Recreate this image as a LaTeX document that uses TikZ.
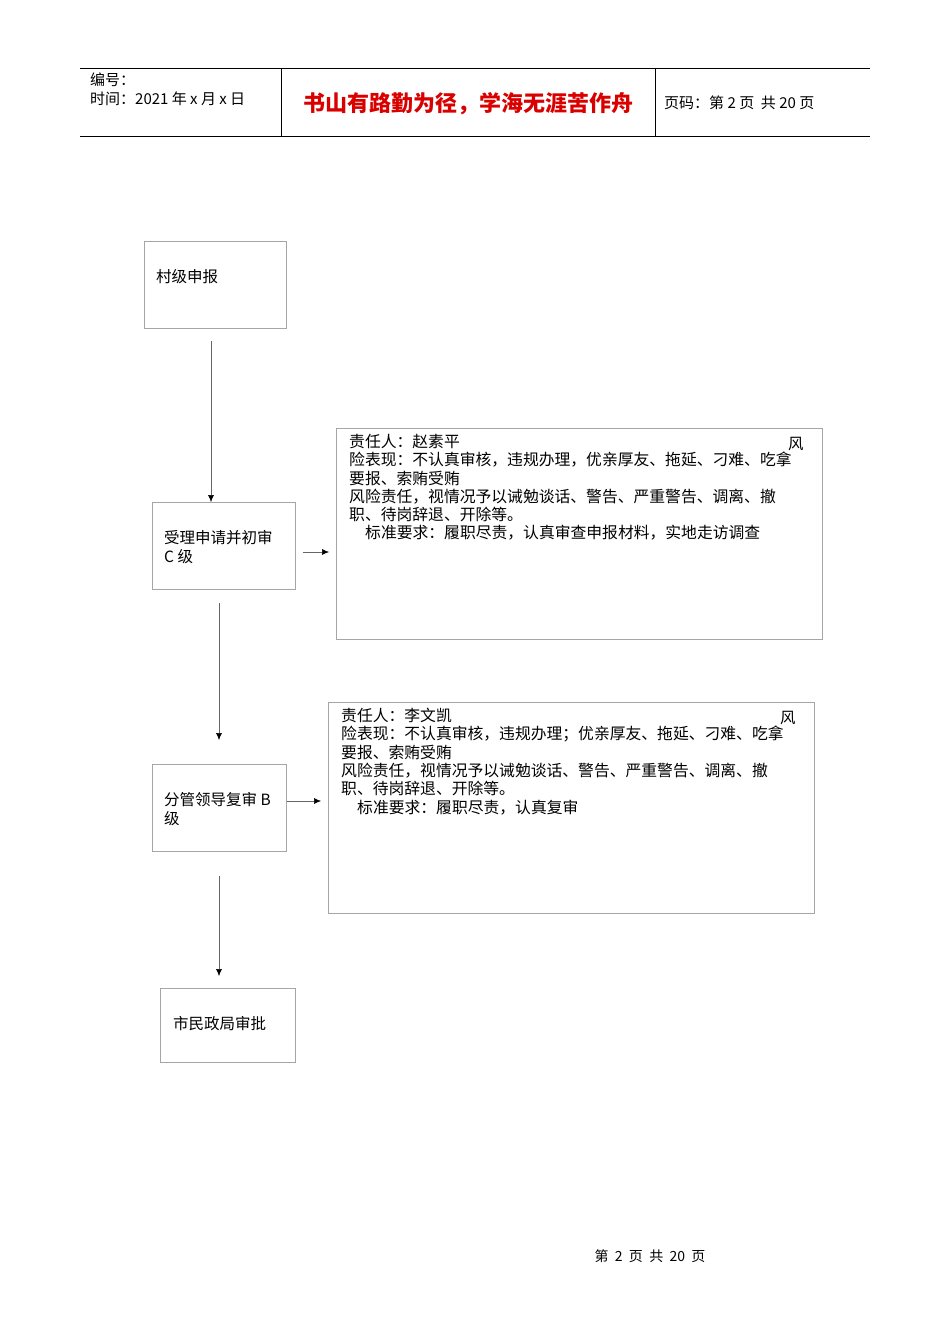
\documentclass[tikz,border=0pt]{standalone}
\usepackage{fontspec}
\setmainfont{Liberation Serif}
\newfontfamily\cjk{Noto Sans CJK SC}
\usetikzlibrary{arrows.meta}
\begin{document}
\begin{tikzpicture}[x=1pt,y=-1pt,
  box/.style={draw=black!35,line width=0.6pt},
  arr/.style={draw=black!60,line width=0.5pt,-{Latex[length=7pt,width=6pt,black]}},
  txt/.style={inner sep=0pt,font=\cjk\fontsize{15.8}{18.3}\selectfont,anchor=north west,align=left},
  lbl/.style={inner sep=0pt,font=\cjk\fontsize{15.5}{19}\selectfont,anchor=west,align=left}]
\useasboundingbox (0,0) rectangle (950,1344);
% header
\draw[line width=0.6pt] (80,68) -- (870,68) (80,136) -- (870,136) (281,68) -- (281,136) (655,68) -- (655,136);
\node[lbl,font=\cjk\fontsize{15}{17}\selectfont] (h1) at (90,80) {编号：};
\node[lbl,font=\cjk\fontsize{15}{17}\selectfont] (h2) at (90,99) {时间：2021 年 x 月 x 日};
\node[inner sep=0pt,text=red!85!black,font=\cjk\bfseries\fontsize{22}{26}\selectfont] (h3) at (468,104) {书山有路勤为径，学海无涯苦作舟};
\node[lbl,font=\cjk\fontsize{15}{17}\selectfont] (h4) at (664,103) {页码：第 2 页\ \ 共 20 页};
% flow boxes
\draw[box] (144,241) rectangle (286,328);
\node[lbl] (b1) at (156,277) {村级申报};
\draw[box] (152,502) rectangle (295,589);
\node[lbl] (b2) at (164,547) {受理申请并初审\\C 级};
\draw[box] (152,764) rectangle (286,851);
\node[lbl] (b3) at (164,809) {分管领导复审 B\\级};
\draw[box] (160,988) rectangle (295,1062);
\node[lbl] (b4) at (173,1024) {市民政局审批};
% info boxes
\draw[box] (336,428) rectangle (822,639);
\node[txt] (t1) at (349,434) {责任人：赵素平\\险表现：不认真审核，违规办理，优亲厚友、拖延、刁难、吃拿\\要报、索贿受贿\\风险责任，视情况予以诫勉谈话、警告、严重警告、调离、撤\\职、待岗辞退、开除等。\\\hspace*{16pt}标准要求：履职尽责，认真审查申报材料，实地走访调查};
\node[lbl] (f1) at (788,444) {风};
\draw[box] (328,702) rectangle (814,913);
\node[txt] (t2) at (341,708) {责任人：李文凯\\险表现：不认真审核，违规办理；优亲厚友、拖延、刁难、吃拿\\要报、索贿受贿\\风险责任，视情况予以诫勉谈话、警告、严重警告、调离、撤\\职、待岗辞退、开除等。\\\hspace*{16pt}标准要求：履职尽责，认真复审};
\node[lbl] (f2) at (780,718) {风};
% arrows
\coordinate (a1s) at (211,341); \coordinate (a1e) at (211,502);
\coordinate (a2s) at (219,603); \coordinate (a2e) at (219,740);
\coordinate (a3s) at (219,876); \coordinate (a3e) at (219,976);
\coordinate (c1s) at (303,552); \coordinate (c1e) at (329,552);
\coordinate (c2s) at (287,801); \coordinate (c2e) at (321,801);
\draw[arr] (a1s) -- (a1e);
\draw[arr] (a2s) -- (a2e);
\draw[arr] (a3s) -- (a3e);
\draw[arr] (c1s) -- (c1e);
\draw[arr] (c2s) -- (c2e);
% footer
\node[inner sep=0pt,font=\cjk\fontsize{14}{16}\selectfont] (ft) at (650,1256) {第\ \ 2\ \ 页\ \ 共\ \ 20\ \ 页};
\end{tikzpicture}
\end{document}
